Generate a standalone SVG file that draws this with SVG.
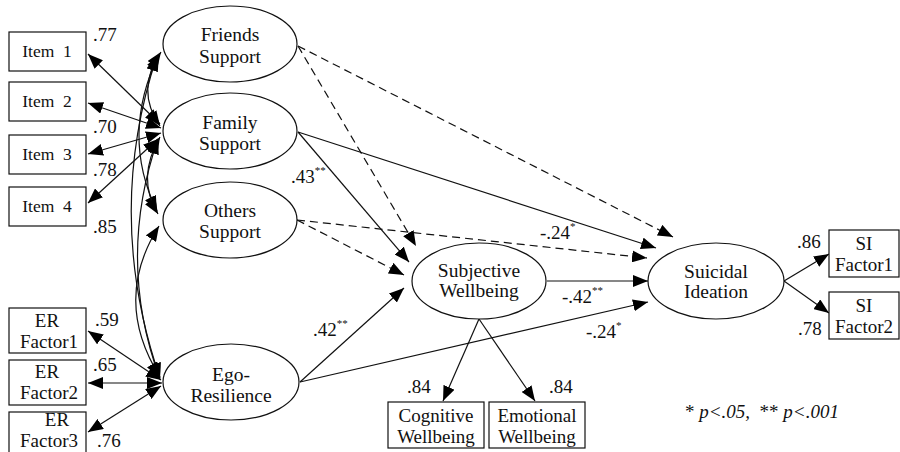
<svg xmlns="http://www.w3.org/2000/svg" width="900" height="452" viewBox="0 0 900 452" font-family="'Liberation Serif', 'DejaVu Serif', serif">
<style>
text{font-family:"Liberation Serif","DejaVu Serif",serif;font-size:19px;fill:#111;}
.c{text-anchor:middle;}
.n{font-size:19.5px;}
.i{font-size:17.5px;}
.sup{font-size:11px;}
.it{font-style:italic;}
ellipse,rect{fill:#fff;stroke:#111;stroke-width:1.2;}
.ln{fill:none;stroke:#111;stroke-width:1.2;}
.d{stroke-dasharray:8 5;}
.e{marker-end:url(#ah);}
.b{marker-start:url(#ah);marker-end:url(#ah);}
</style>
<defs>
<marker id="ah" markerUnits="userSpaceOnUse" markerWidth="15" markerHeight="12" refX="15" refY="6" orient="auto-start-reverse" viewBox="0 0 15 12"><path d="M0,0 L15,6 L0,12 z" fill="#000"/></marker>
</defs>
<g id="connectors">
<path class="ln b" d="M88,54 L160,124"/>
<path class="ln b" d="M88,103 L161,128"/>
<path class="ln b" d="M88,154 L161,133"/>
<path class="ln b" d="M88,203 L158,139"/>
<path class="ln b" d="M88,331 L161,380"/>
<path class="ln b" d="M88,383 L162,383"/>
<path class="ln b" d="M88,432 L161,386"/>
<path class="ln b" d="M161,52 Q135,90 160,126"/>
<path class="ln b" d="M159,54 Q120,135 157,211"/>
<path class="ln b" d="M157,56 Q104,215 160,378"/>
<path class="ln b" d="M160,137 Q136,178 158,214"/>
<path class="ln b" d="M158,139 Q116,260 160,379"/>
<path class="ln b" d="M159,226 Q112,300 160,377"/>
<path class="ln d e" d="M298,46 L416,246"/>
<path class="ln d e" d="M298,46 L673,237"/>
<path class="ln e" d="M298,132 L409,262"/>
<path class="ln e" d="M298,132 L656,248"/>
<path class="ln d e" d="M297,220 L404,275"/>
<path class="ln d e" d="M297,220 L647,258"/>
<path class="ln e" d="M300,382 L404,288"/>
<path class="ln e" d="M300,382 L648,302"/>
<path class="ln e" d="M547,281 L648,281"/>
<path class="ln e" d="M479,319 L443,401"/>
<path class="ln e" d="M479,319 L535,401"/>
<path class="ln e" d="M784,281 L829,254"/>
<path class="ln e" d="M784,281 L829,313"/>
</g>
<g id="item1"><rect x="9" y="32" width="77" height="39"/><text class="c i" x="47" y="57" xml:space="preserve">Item  1</text></g>
<g id="item2"><rect x="9" y="82" width="77" height="39"/><text class="c i" x="47" y="107" xml:space="preserve">Item  2</text></g>
<g id="item3"><rect x="9" y="135" width="77" height="39"/><text class="c i" x="47" y="160" xml:space="preserve">Item  3</text></g>
<g id="item4"><rect x="9" y="187" width="77" height="39"/><text class="c i" x="47" y="212" xml:space="preserve">Item  4</text></g>
<g id="er1"><rect x="9" y="308" width="77" height="45"/><text class="c" x="47" y="327">ER</text><text class="c" x="49" y="348">Factor1</text></g>
<g id="er2"><rect x="9" y="360" width="77" height="45"/><text class="c" x="47" y="378">ER</text><text class="c" x="49" y="399">Factor2</text></g>
<g id="er3"><rect x="9" y="412" width="77" height="45"/><text class="c" x="57" y="426">ER</text><text class="c" x="49" y="447">Factor3</text></g>
<g id="friends"><ellipse cx="230" cy="44" rx="67" ry="38"/><text class="c n" x="230" y="41">Friends</text><text class="c n" x="230" y="63">Support</text></g>
<g id="family"><ellipse cx="230" cy="131" rx="67" ry="38"/><text class="c n" x="230" y="129">Family</text><text class="c n" x="230" y="150">Support</text></g>
<g id="others"><ellipse cx="230" cy="220" rx="67" ry="38"/><text class="c n" x="230" y="217">Others</text><text class="c n" x="230" y="238">Support</text></g>
<g id="ego"><ellipse cx="231" cy="382" rx="68" ry="38"/><text class="c n" x="231" y="381">Ego-</text><text class="c n" x="231" y="402">Resilience</text></g>
<g id="sw"><ellipse cx="479" cy="281" rx="67" ry="38"/><text class="c n" x="479" y="277">Subjective</text><text class="c n" x="479" y="297">Wellbeing</text></g>
<g id="si"><ellipse cx="716" cy="281" rx="68" ry="38"/><text class="c n" x="716" y="278">Suicidal</text><text class="c n" x="716" y="298">Ideation</text></g>
<g id="cog"><rect x="388" y="402" width="96" height="46"/><text class="c" x="436" y="422">Cognitive</text><text class="c" x="436" y="443">Wellbeing</text></g>
<g id="emo"><rect x="489" y="402" width="96" height="46"/><text class="c" x="537" y="422">Emotional</text><text class="c" x="537" y="443">Wellbeing</text></g>
<g id="sif1"><rect x="829" y="230" width="70" height="47"/><text class="c" x="864" y="250">SI</text><text class="c" x="864" y="271">Factor1</text></g>
<g id="sif2"><rect x="829" y="292" width="70" height="47"/><text class="c" x="864" y="312">SI</text><text class="c" x="864" y="333">Factor2</text></g>
<g id="labels">
<text x="93" y="41">.77</text>
<text x="93" y="133">.70</text>
<text x="93" y="176">.78</text>
<text x="93" y="233">.85</text>
<text x="95" y="326">.59</text>
<text x="93" y="371">.65</text>
<text x="97" y="447">.76</text>
<text x="291" y="183">.43<tspan class="sup" dy="-9">**</tspan></text>
<text x="540" y="239">-.24<tspan class="sup" dy="-9">*</tspan></text>
<text x="313" y="336">.42<tspan class="sup" dy="-9">**</tspan></text>
<text x="562" y="303">-.42<tspan class="sup" dy="-9">**</tspan></text>
<text x="586" y="338">-.24<tspan class="sup" dy="-9">*</tspan></text>
<text x="797" y="248">.86</text>
<text x="798" y="335">.78</text>
<text x="407" y="393">.84</text>
<text x="549" y="393">.84</text>
<text x="685" y="418" xml:space="preserve">* <tspan class="it">p&lt;.05,</tspan>  ** <tspan class="it">p&lt;.001</tspan></text>
</g>
</svg>
